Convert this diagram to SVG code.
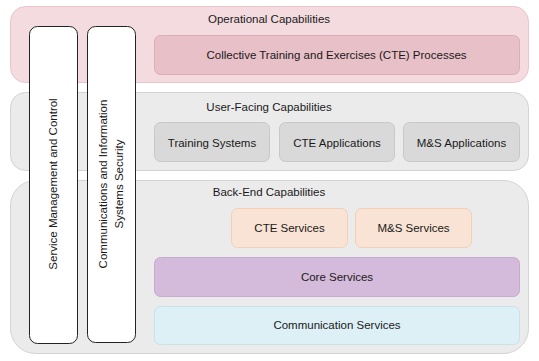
<svg xmlns="http://www.w3.org/2000/svg" width="539" height="361" viewBox="0 0 539 361">
<style>
text{font-family:"Liberation Sans",Arial,sans-serif;font-size:11.5px;fill:#1a1a1a;text-anchor:middle}
.op{fill:#f3dbe0;stroke:#ebc3ca;stroke-width:1}
.opi{fill:#e8c0c8;stroke:#ddacb6;stroke-width:1}
.band{fill:#ebebeb;stroke:#d3d3d3;stroke-width:1}
.ui{fill:#d9d9d9;stroke:#c8c8c8;stroke-width:1}
.svc{fill:#f8e3d4;stroke:#f0d0b9;stroke-width:1}
.core{fill:#d4bbdb;stroke:#c8aad0;stroke-width:1}
.comm{fill:#dcf0f6;stroke:#c6e3eb;stroke-width:1}
.vert{fill:#ffffff;stroke:#222222;stroke-width:1}
</style>
<g id="operational">
<rect class="op" x="10.5" y="6.5" width="518" height="76" rx="15"/>
<text x="269" y="23">Operational Capabilities</text>
</g>
<g id="user-facing">
<rect class="band" x="10.5" y="92.5" width="518" height="78" rx="15"/>
<text x="269" y="111">User-Facing Capabilities</text>
</g>
<g id="back-end">
<rect class="band" x="10.5" y="180.5" width="518" height="173" rx="25"/>
<text x="269" y="196">Back-End Capabilities</text>
</g>
<g id="cte-processes">
<rect class="opi" x="154.5" y="35.5" width="365" height="39" rx="6"/>
<text x="336.5" y="59">Collective Training and Exercises (CTE) Processes</text>
</g>
<g id="training-systems">
<rect class="ui" x="154.5" y="122.5" width="115" height="39" rx="6"/>
<text x="212" y="147">Training Systems</text>
</g>
<g id="cte-applications">
<rect class="ui" x="279.5" y="122.5" width="115" height="39" rx="6"/>
<text x="337" y="147">CTE Applications</text>
</g>
<g id="ms-applications">
<rect class="ui" x="403.5" y="122.5" width="116" height="39" rx="6"/>
<text x="461.5" y="147">M&amp;S Applications</text>
</g>
<g id="cte-services">
<rect class="svc" x="231.5" y="208.5" width="116" height="39" rx="6"/>
<text x="289.5" y="232">CTE Services</text>
</g>
<g id="ms-services">
<rect class="svc" x="355.5" y="208.5" width="116" height="39" rx="6"/>
<text x="413.5" y="232">M&amp;S Services</text>
</g>
<g id="core-services">
<rect class="core" x="154.5" y="257.5" width="365" height="39" rx="6"/>
<text x="337" y="281">Core Services</text>
</g>
<g id="communication-services">
<rect class="comm" x="154.5" y="306.5" width="365" height="38" rx="6"/>
<text x="337" y="329">Communication Services</text>
</g>
<g id="service-management">
<rect class="vert" x="29.5" y="26.5" width="48" height="317" rx="8"/>
<text transform="translate(57,184) rotate(-90)">Service Management and Control</text>
</g>
<g id="cis-security">
<rect class="vert" x="87.5" y="26.5" width="48" height="316" rx="8"/>
<text transform="translate(111,184) rotate(-90)"><tspan x="0" y="-4">Communications and Information</tspan><tspan x="0" y="12">Systems Security</tspan></text>
</g>
<g id="connectors"></g>
</svg>
